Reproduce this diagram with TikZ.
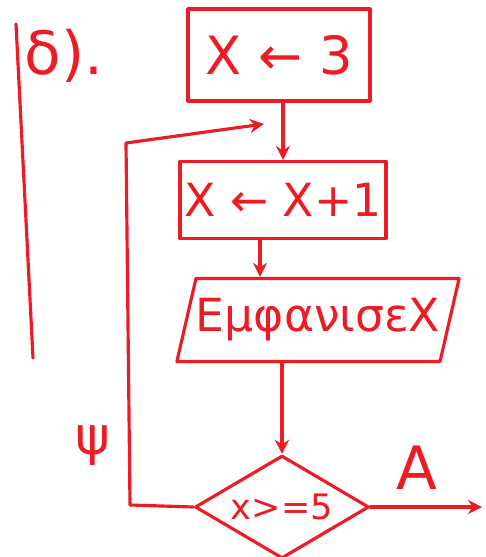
\documentclass[tikz,border=0pt]{standalone}
\usepackage{fontspec}
\setmainfont{DejaVu Sans}
\usetikzlibrary{shapes.geometric,arrows.meta}
\definecolor{ink}{RGB}{237,28,36}
\tikzset{
  line/.style={draw=ink,line width=1.8pt,line join=round,line cap=round},
  arr/.style={line,-{Stealth[length=8pt,width=8pt]}},
  boxnode/.style={line,rectangle,inner sep=0pt,text=ink},
  txt/.style={text=ink,inner sep=0pt}
}
\begin{document}
\begin{tikzpicture}[x=0.02cm,y=-0.02cm]
\useasboundingbox (0,0) rectangle (485,557);
% margin mark and label
\coordinate (m1) at (16,24);
\coordinate (m2) at (33,358);
\draw[line] (m1) -- (m2);
\node[txt,font=\fontsize{34}{38}\selectfont] (lab) at (64,56) {δ).};
% boxes
\node[boxnode,minimum width=3.64cm,minimum height=1.84cm,font=\fontsize{30}{34}\selectfont] (b1) at (279,55) {X ← 3};
\node[boxnode,minimum width=4.12cm,minimum height=1.54cm,font=\fontsize{26}{30}\selectfont] (b2) at (283,200) {X ← X+1};
\node[line,trapezium,trapezium left angle=66,trapezium right angle=114,trapezium stretches=true,
      minimum width=5.6cm,minimum height=1.66cm,inner sep=0pt,text=ink,font=\fontsize{26}{30}\selectfont] (p) at (318,320) {ΕμφανισεΧ};
\node[line,diamond,minimum width=3.48cm,minimum height=2.06cm,inner sep=0pt,aspect=1.7,text=ink,font=\fontsize{20}{24}\selectfont] (d) at (282,507) {x>=5};
% labels
\node[txt,font=\fontsize{34}{38}\selectfont] (A) at (417,468) {A};
\node[txt,font=\fontsize{30}{34}\selectfont] (psi) at (93,446) {ψ};
% connectors
\draw[arr] ([xshift=0.08cm]b1.south) -- ([xshift=0.08cm]b1.south |- b2.north);
\draw[arr] ([xshift=-0.46cm]b2.south) -- ([xshift=-0.46cm]b2.south |- p.north);
\draw[arr] (p.south -| d.north) -- (d.north);
\coordinate (outend) at (482,507);
\draw[arr] (d.east) -- (outend);
\coordinate (c1) at (130,505);
\coordinate (c2) at (126,143);
\coordinate (join) at (264,124);
\draw[arr] (d.west) -- (c1) -- (c2) -- (join);
\end{tikzpicture}
\end{document}
